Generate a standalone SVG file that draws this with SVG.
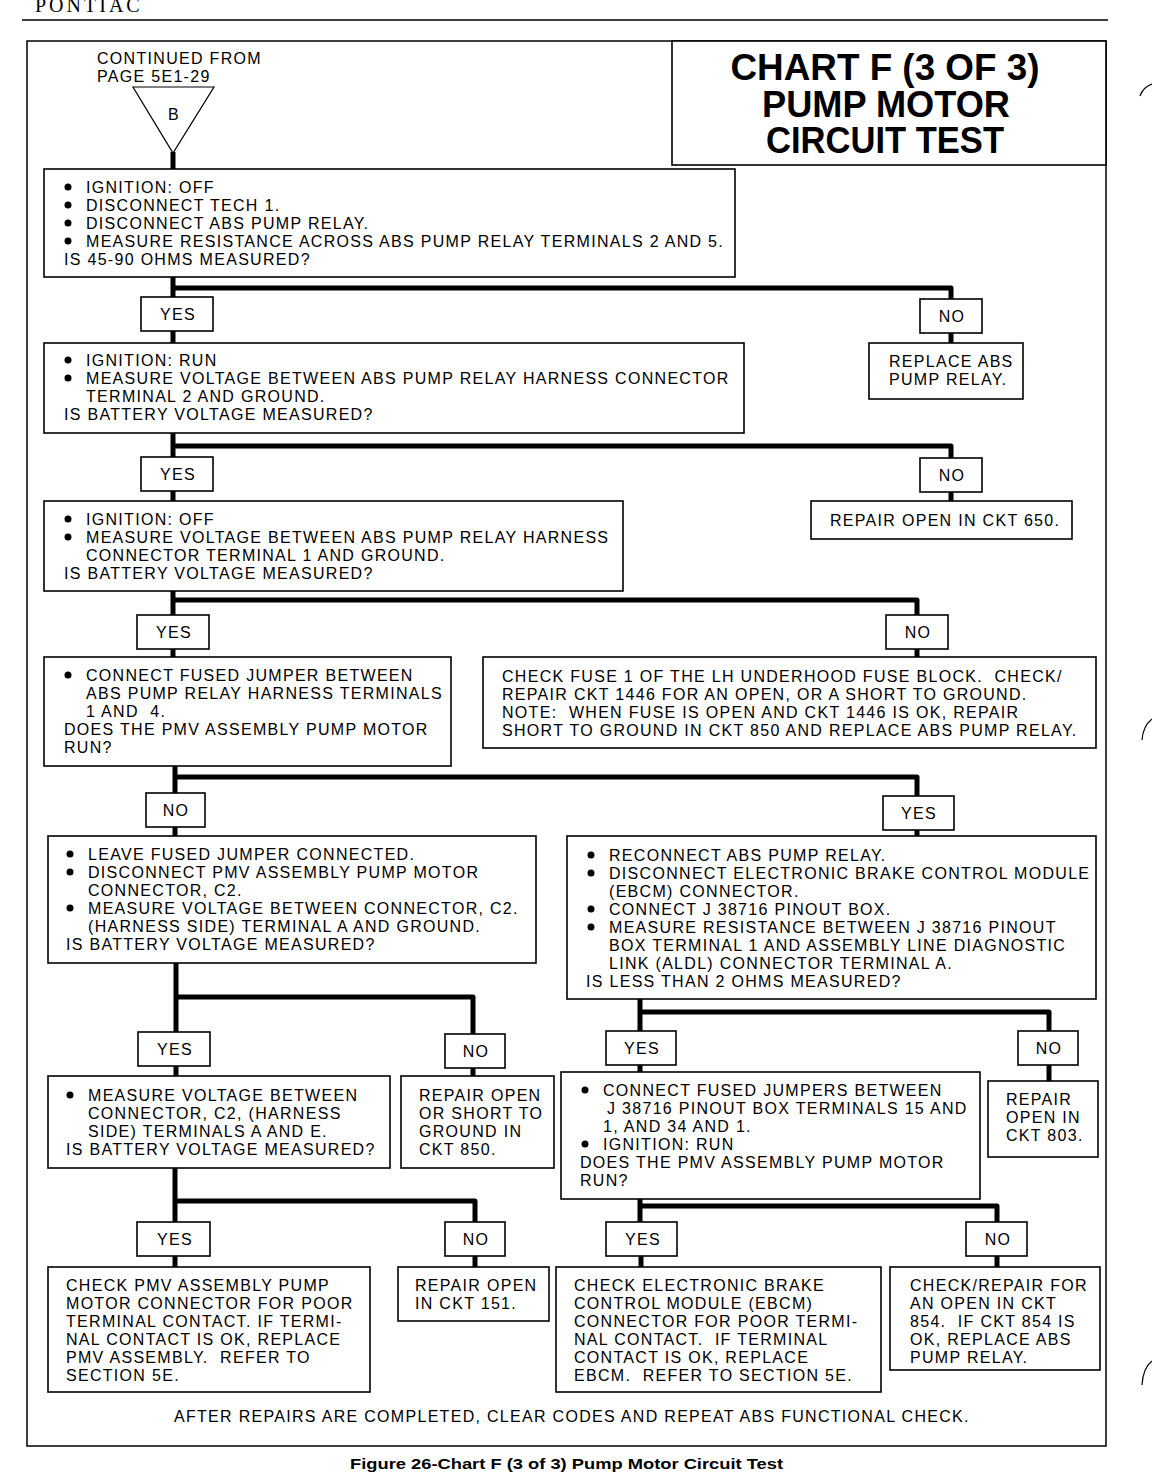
<svg xmlns="http://www.w3.org/2000/svg" width="1152" height="1472" viewBox="0 0 1152 1472">
<style>
.bg{fill:#fff}
.frame{fill:none;stroke:#000;stroke-width:1.5}
.box{fill:#fff;stroke:#000;stroke-width:1.6}
.conn{fill:none;stroke:#000;stroke-width:5;stroke-linejoin:round}
.t{font-family:"Liberation Sans",Arial,sans-serif;font-size:16px;letter-spacing:1.3px;fill:#000}
.c{text-anchor:middle}
.title{font-family:"Liberation Sans",Arial,sans-serif;font-size:37px;font-weight:bold;fill:#000;text-anchor:middle}
.dot{fill:#000}
.mark{fill:none;stroke:#000;stroke-width:1.2}
</style>
<rect class="bg" x="0" y="0" width="1152" height="1472"/>
<text x="35" y="12" style="font-family:'Liberation Serif','Times New Roman',serif;font-size:20px;letter-spacing:3px">PONTIAC</text>
<line x1="22" y1="20" x2="1108" y2="20" stroke="#000" stroke-width="1.5"/>
<rect class="frame" x="27" y="41" width="1079" height="1405"/>
<path class="mark" d="M1152,84 Q1143,87 1140,96"/>
<path class="mark" d="M1152,719 Q1143,726 1142,740"/>
<path class="mark" d="M1152,1361 Q1143,1368 1142,1385"/>

<g id="title">
<rect class="box" x="672" y="41" width="434" height="124"/>
<text class="title" x="885" y="80" textLength="309" lengthAdjust="spacingAndGlyphs">CHART F (3 OF 3)</text>
<text class="title" x="886" y="117" textLength="248" lengthAdjust="spacingAndGlyphs">PUMP MOTOR</text>
<text class="title" x="885" y="153" textLength="238" lengthAdjust="spacingAndGlyphs">CIRCUIT TEST</text>
</g>

<g id="start">
<text class="t" x="97" y="64">CONTINUED FROM</text>
<text class="t" x="97" y="82">PAGE 5E1-29</text>
<polygon points="133,87 214,87 173,153" fill="#fff" stroke="#000" stroke-width="1.2"/>
<text class="t c" x="174" y="120">B</text>
</g>

<g id="connectors">
<path class="conn" d="M173,152 V169"/>
<path class="conn" d="M173,277 V297"/>
<path class="conn" d="M173,288 H951 V299"/>
<path class="conn" d="M173,331 V343"/>
<path class="conn" d="M951,333 V343"/>
<path class="conn" d="M173,433 V457"/>
<path class="conn" d="M173,446 H951 V458"/>
<path class="conn" d="M173,491 V501"/>
<path class="conn" d="M951,492 V501"/>
<path class="conn" d="M173,591 V615"/>
<path class="conn" d="M173,600 H917 V615"/>
<path class="conn" d="M173,649 V657"/>
<path class="conn" d="M917,649 V657"/>
<path class="conn" d="M175,766 V793"/>
<path class="conn" d="M175,777 H917 V796"/>
<path class="conn" d="M175,827 V836"/>
<path class="conn" d="M917,830 V836"/>
<path class="conn" d="M176,963 V1032"/>
<path class="conn" d="M176,997 H473 V1034"/>
<path class="conn" d="M176,1066 V1076"/>
<path class="conn" d="M473,1068 V1076"/>
<path class="conn" d="M640,999 V1031"/>
<path class="conn" d="M640,1012 H1049 V1031"/>
<path class="conn" d="M640,1065 V1072"/>
<path class="conn" d="M1049,1065 V1081"/>
<path class="conn" d="M175,1168 V1222"/>
<path class="conn" d="M175,1201 H475 V1222"/>
<path class="conn" d="M175,1256 V1267"/>
<path class="conn" d="M475,1256 V1267"/>
<path class="conn" d="M640,1199 V1222"/>
<path class="conn" d="M640,1206 H997 V1222"/>
<path class="conn" d="M641,1256 V1267"/>
<path class="conn" d="M997,1256 V1267"/>
</g>

<g id="box1">
<rect class="box" x="44" y="169" width="691" height="108"/>
<circle class="dot" cx="68" cy="187" r="3.5"/>
<circle class="dot" cx="68" cy="205" r="3.5"/>
<circle class="dot" cx="68" cy="223" r="3.5"/>
<circle class="dot" cx="68" cy="241" r="3.5"/>
<text class="t" x="86" y="193">IGNITION: OFF</text>
<text class="t" x="86" y="211">DISCONNECT TECH 1.</text>
<text class="t" x="86" y="229">DISCONNECT ABS PUMP RELAY.</text>
<text class="t" x="86" y="247">MEASURE RESISTANCE ACROSS ABS PUMP RELAY TERMINALS 2 AND 5.</text>
<text class="t" x="64" y="265">IS 45-90 OHMS MEASURED?</text>
</g>

<g id="yes1"><rect class="box" x="141" y="297" width="72" height="34"/><text class="t c" x="178" y="320">YES</text></g>
<g id="no1"><rect class="box" x="920" y="299" width="62" height="34"/><text class="t c" x="952" y="322">NO</text></g>

<g id="box2">
<rect class="box" x="44" y="343" width="700" height="90"/>
<circle class="dot" cx="68" cy="360" r="3.5"/>
<circle class="dot" cx="68" cy="378" r="3.5"/>
<text class="t" x="86" y="366">IGNITION: RUN</text>
<text class="t" x="86" y="384">MEASURE VOLTAGE BETWEEN ABS PUMP RELAY HARNESS CONNECTOR</text>
<text class="t" x="86" y="402">TERMINAL 2 AND GROUND.</text>
<text class="t" x="64" y="420">IS BATTERY VOLTAGE MEASURED?</text>
</g>

<g id="replace1">
<rect class="box" x="869" y="343" width="154" height="56"/>
<text class="t" x="889" y="367">REPLACE ABS</text>
<text class="t" x="889" y="385">PUMP RELAY.</text>
</g>

<g id="yes2"><rect class="box" x="141" y="457" width="72" height="34"/><text class="t c" x="178" y="480">YES</text></g>
<g id="no2"><rect class="box" x="920" y="458" width="62" height="34"/><text class="t c" x="952" y="481">NO</text></g>

<g id="repair650">
<rect class="box" x="811" y="501" width="261" height="38"/>
<text class="t" x="830" y="526">REPAIR OPEN IN CKT 650.</text>
</g>

<g id="box3">
<rect class="box" x="44" y="501" width="579" height="90"/>
<circle class="dot" cx="68" cy="519" r="3.5"/>
<circle class="dot" cx="68" cy="537" r="3.5"/>
<text class="t" x="86" y="525">IGNITION: OFF</text>
<text class="t" x="86" y="543">MEASURE VOLTAGE BETWEEN ABS PUMP RELAY HARNESS</text>
<text class="t" x="86" y="561">CONNECTOR TERMINAL 1 AND GROUND.</text>
<text class="t" x="64" y="579">IS BATTERY VOLTAGE MEASURED?</text>
</g>

<g id="yes3"><rect class="box" x="137" y="615" width="72" height="34"/><text class="t c" x="174" y="638">YES</text></g>
<g id="no3"><rect class="box" x="886" y="615" width="62" height="34"/><text class="t c" x="918" y="638">NO</text></g>

<g id="box4">
<rect class="box" x="44" y="657" width="407" height="109"/>
<circle class="dot" cx="68" cy="675" r="3.5"/>
<text class="t" x="86" y="681">CONNECT FUSED JUMPER BETWEEN</text>
<text class="t" x="86" y="699">ABS PUMP RELAY HARNESS TERMINALS</text>
<text class="t" x="86" y="717" xml:space="preserve">1 AND  4.</text>
<text class="t" x="64" y="735">DOES THE PMV ASSEMBLY PUMP MOTOR</text>
<text class="t" x="64" y="753">RUN?</text>
</g>

<g id="fuse">
<rect class="box" x="483" y="657" width="613" height="91"/>
<text class="t" x="502" y="682" xml:space="preserve">CHECK FUSE 1 OF THE LH UNDERHOOD FUSE BLOCK.  CHECK/</text>
<text class="t" x="502" y="700">REPAIR CKT 1446 FOR AN OPEN, OR A SHORT TO GROUND.</text>
<text class="t" x="502" y="718" xml:space="preserve">NOTE:  WHEN FUSE IS OPEN AND CKT 1446 IS OK, REPAIR</text>
<text class="t" x="502" y="736">SHORT TO GROUND IN CKT 850 AND REPLACE ABS PUMP RELAY.</text>
</g>

<g id="no4"><rect class="box" x="146" y="793" width="59" height="34"/><text class="t c" x="176" y="816">NO</text></g>
<g id="yes4"><rect class="box" x="883" y="796" width="71" height="34"/><text class="t c" x="919" y="819">YES</text></g>

<g id="box5">
<rect class="box" x="48" y="836" width="488" height="127"/>
<circle class="dot" cx="70" cy="854" r="3.5"/>
<circle class="dot" cx="70" cy="872" r="3.5"/>
<circle class="dot" cx="70" cy="908" r="3.5"/>
<text class="t" x="88" y="860">LEAVE FUSED JUMPER CONNECTED.</text>
<text class="t" x="88" y="878">DISCONNECT PMV ASSEMBLY PUMP MOTOR</text>
<text class="t" x="88" y="896">CONNECTOR, C2.</text>
<text class="t" x="88" y="914">MEASURE VOLTAGE BETWEEN CONNECTOR, C2.</text>
<text class="t" x="88" y="932">(HARNESS SIDE) TERMINAL A AND GROUND.</text>
<text class="t" x="66" y="950">IS BATTERY VOLTAGE MEASURED?</text>
</g>

<g id="box6">
<rect class="box" x="567" y="836" width="529" height="163"/>
<circle class="dot" cx="591" cy="855" r="3.5"/>
<circle class="dot" cx="591" cy="873" r="3.5"/>
<circle class="dot" cx="591" cy="909" r="3.5"/>
<circle class="dot" cx="591" cy="927" r="3.5"/>
<text class="t" x="609" y="861">RECONNECT ABS PUMP RELAY.</text>
<text class="t" x="609" y="879">DISCONNECT ELECTRONIC BRAKE CONTROL MODULE</text>
<text class="t" x="609" y="897">(EBCM) CONNECTOR.</text>
<text class="t" x="609" y="915">CONNECT J 38716 PINOUT BOX.</text>
<text class="t" x="609" y="933">MEASURE RESISTANCE BETWEEN J 38716 PINOUT</text>
<text class="t" x="609" y="951">BOX TERMINAL 1 AND ASSEMBLY LINE DIAGNOSTIC</text>
<text class="t" x="609" y="969">LINK (ALDL) CONNECTOR TERMINAL A.</text>
<text class="t" x="586" y="987">IS LESS THAN 2 OHMS MEASURED?</text>
</g>

<g id="yes5"><rect class="box" x="138" y="1032" width="72" height="34"/><text class="t c" x="175" y="1055">YES</text></g>
<g id="no5"><rect class="box" x="445" y="1034" width="60" height="34"/><text class="t c" x="476" y="1057">NO</text></g>
<g id="yes6"><rect class="box" x="606" y="1031" width="70" height="34"/><text class="t c" x="642" y="1054">YES</text></g>
<g id="no6"><rect class="box" x="1018" y="1031" width="60" height="34"/><text class="t c" x="1049" y="1054">NO</text></g>

<g id="box7">
<rect class="box" x="48" y="1076" width="342" height="92"/>
<circle class="dot" cx="70" cy="1095" r="3.5"/>
<text class="t" x="88" y="1101">MEASURE VOLTAGE BETWEEN</text>
<text class="t" x="88" y="1119">CONNECTOR, C2, (HARNESS</text>
<text class="t" x="88" y="1137">SIDE) TERMINALS A AND E.</text>
<text class="t" x="66" y="1155">IS BATTERY VOLTAGE MEASURED?</text>
</g>

<g id="box8">
<rect class="box" x="401" y="1076" width="153" height="92"/>
<text class="t" x="419" y="1101">REPAIR OPEN</text>
<text class="t" x="419" y="1119">OR SHORT TO</text>
<text class="t" x="419" y="1137">GROUND IN</text>
<text class="t" x="419" y="1155">CKT 850.</text>
</g>

<g id="box9">
<rect class="box" x="561" y="1072" width="419" height="127"/>
<circle class="dot" cx="585" cy="1090" r="3.5"/>
<circle class="dot" cx="585" cy="1144" r="3.5"/>
<text class="t" x="603" y="1096">CONNECT FUSED JUMPERS BETWEEN</text>
<text class="t" x="607" y="1114">J 38716 PINOUT BOX TERMINALS 15 AND</text>
<text class="t" x="603" y="1132">1, AND 34 AND 1.</text>
<text class="t" x="603" y="1150">IGNITION: RUN</text>
<text class="t" x="580" y="1168">DOES THE PMV ASSEMBLY PUMP MOTOR</text>
<text class="t" x="580" y="1186">RUN?</text>
</g>

<g id="box10">
<rect class="box" x="988" y="1081" width="110" height="76"/>
<text class="t" x="1006" y="1105">REPAIR</text>
<text class="t" x="1006" y="1123">OPEN IN</text>
<text class="t" x="1006" y="1141">CKT 803.</text>
</g>

<g id="yes7"><rect class="box" x="137" y="1222" width="73" height="34"/><text class="t c" x="175" y="1245">YES</text></g>
<g id="no7"><rect class="box" x="445" y="1222" width="60" height="34"/><text class="t c" x="476" y="1245">NO</text></g>
<g id="yes8"><rect class="box" x="606" y="1222" width="71" height="34"/><text class="t c" x="643" y="1245">YES</text></g>
<g id="no8"><rect class="box" x="966" y="1222" width="61" height="34"/><text class="t c" x="998" y="1245">NO</text></g>

<g id="box11">
<rect class="box" x="48" y="1267" width="322" height="125"/>
<text class="t" x="66" y="1291">CHECK PMV ASSEMBLY PUMP</text>
<text class="t" x="66" y="1309">MOTOR CONNECTOR FOR POOR</text>
<text class="t" x="66" y="1327">TERMINAL CONTACT. IF TERMI-</text>
<text class="t" x="66" y="1345">NAL CONTACT IS OK, REPLACE</text>
<text class="t" x="66" y="1363" xml:space="preserve">PMV ASSEMBLY.  REFER TO</text>
<text class="t" x="66" y="1381">SECTION 5E.</text>
</g>

<g id="box12">
<rect class="box" x="398" y="1267" width="151" height="54"/>
<text class="t" x="415" y="1291">REPAIR OPEN</text>
<text class="t" x="415" y="1309">IN CKT 151.</text>
</g>

<g id="box13">
<rect class="box" x="556" y="1267" width="325" height="125"/>
<text class="t" x="574" y="1291">CHECK ELECTRONIC BRAKE</text>
<text class="t" x="574" y="1309">CONTROL MODULE (EBCM)</text>
<text class="t" x="574" y="1327">CONNECTOR FOR POOR TERMI-</text>
<text class="t" x="574" y="1345" xml:space="preserve">NAL CONTACT.  IF TERMINAL</text>
<text class="t" x="574" y="1363">CONTACT IS OK, REPLACE</text>
<text class="t" x="574" y="1381" xml:space="preserve">EBCM.  REFER TO SECTION 5E.</text>
</g>

<g id="box14">
<rect class="box" x="890" y="1267" width="210" height="103"/>
<text class="t" x="910" y="1291">CHECK/REPAIR FOR</text>
<text class="t" x="910" y="1309">AN OPEN IN CKT</text>
<text class="t" x="910" y="1327" xml:space="preserve">854.  IF CKT 854 IS</text>
<text class="t" x="910" y="1345">OK, REPLACE ABS</text>
<text class="t" x="910" y="1363">PUMP RELAY.</text>
</g>

<text class="t" x="174" y="1422">AFTER REPAIRS ARE COMPLETED, CLEAR CODES AND REPEAT ABS FUNCTIONAL CHECK.</text>
<text x="350" y="1469" textLength="433" lengthAdjust="spacingAndGlyphs" style="font-family:'Liberation Sans',Arial,sans-serif;font-size:15px;font-weight:bold">Figure 26-Chart F (3 of 3) Pump Motor Circuit Test</text>
</svg>
